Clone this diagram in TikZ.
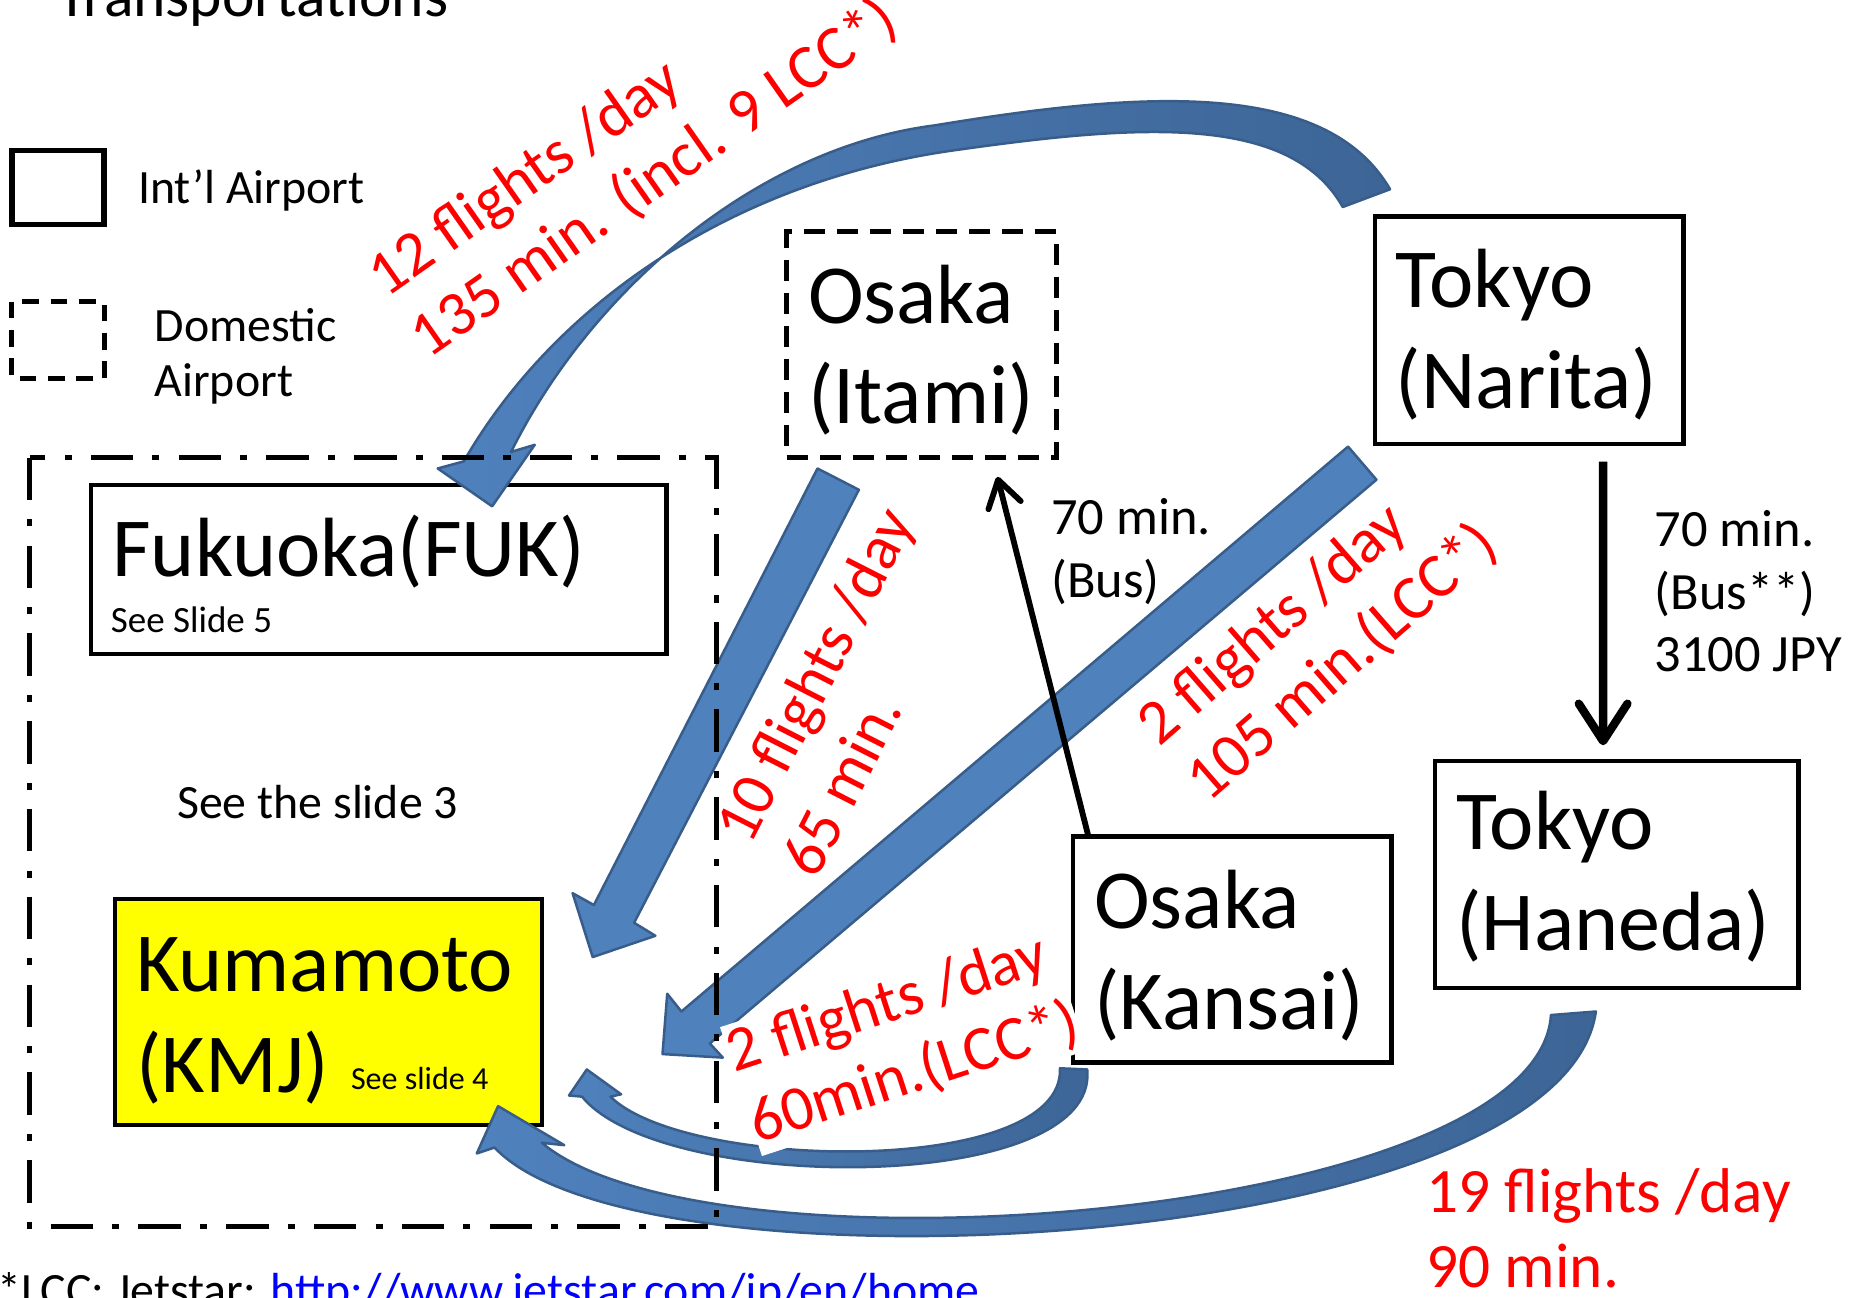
\documentclass[tikz,border=0pt]{standalone}
\usepackage{fontspec}
\setmainfont{Carlito}
\usetikzlibrary{arrows.meta}

\definecolor{arrowfill}{HTML}{4F81BD}
\definecolor{arrowdark}{HTML}{3D6596}
\definecolor{arrowline}{HTML}{385D8A}
\definecolor{flightred}{HTML}{FF0000}
\definecolor{linkblue}{HTML}{0000FF}
\definecolor{kmjyellow}{HTML}{FFFF00}

\tikzset{
  port/.style={draw, line width=1.05pt, inner xsep=0.18cm, inner ysep=0pt, outer sep=0pt,
    align=left, anchor=north west, font=\fontsize{20.2pt}{24.2pt}\selectfont},
  domestic/.style={port, line width=1.2pt, dash pattern=on 5.1pt off 2.85pt},
  grouped/.style={line width=1.2pt, dash pattern=on 10.2pt off 4.6pt on 1.7pt off 4.6pt},
  note/.style={align=left, anchor=base west, inner sep=0pt,
    font=\fontsize{11.5pt}{13.1pt}\selectfont},
  busnote/.style={align=left, anchor=base west, inner sep=0pt,
    font=\fontsize{12.6pt}{15.1pt}\selectfont},
  flight/.style={text=flightred, align=left, anchor=base west, inner sep=0pt,
    font=\fontsize{15.2pt}{17.9pt}\selectfont},
  straightarrow/.style={fill=arrowfill, draw=arrowline, line width=0.6pt, line join=round},
  curvedarrow/.style={left color=arrowfill, middle color=arrowfill, right color=arrowdark,
    draw=arrowline, line width=0.6pt, line join=round},
  busline/.style={line width=2pt, -{Straight Barb[round, length=9pt, width=11.7pt]}}
}

\begin{document}
\begin{tikzpicture}[x=0.01cm, y=-0.01cm]
\useasboundingbox (0,0) rectangle (1568,1097);

% title and legend
\node[anchor=base west, inner sep=0pt, font=\fontsize{14.8pt}{17pt}\selectfont] (title) at (48,14) {Transportations};
\draw[line width=1.3pt] (10,127) rectangle (88,190);
\node[note] (intl) at (116,172) {Int'l Airport};
\draw[line width=1.2pt, dash pattern=on 4pt off 2.8pt] (10,255) rectangle (88,320);
\node[note] (dom) at (130,335) {Domestic\\Airport};

% airports
\node[port, text width=4.50cm, text height=0.77cm, text depth=0.66cm] (fuk) at (77,410) {Fukuoka(FUK)};
\node[port, fill=kmjyellow, text width=3.25cm, text height=0.78cm, text depth=1.13cm] (kmj) at (97,760) {Kumamoto\\(KMJ)};
\node[domestic, text width=1.92cm, text height=0.77cm, text depth=1.14cm] (itami) at (665,196) {Osaka\\(Itami)};
\node[port, text width=2.25cm, text height=0.77cm, text depth=1.15cm] (narita) at (1162,183) {Tokyo\\(Narita)};
\node[port, text width=2.71cm, text height=0.75cm, text depth=1.17cm] (haneda) at (1213,643) {Tokyo\\(Haneda)};
\node[port, text width=2.33cm, text height=0.78cm, text depth=1.13cm] (kansai) at (907,707) {Osaka\\(Kansai)};

\node[anchor=base west, inner sep=0pt, font=\fontsize{8.9pt}{10pt}\selectfont] (fukslide) at (93,535) {See Slide 5};
\node[anchor=base west, inner sep=0pt, font=\fontsize{7.7pt}{9pt}\selectfont] (kmjslide) at (296,921) {See slide 4};
\node[note] (slide3) at (149,692) {See the slide 3};

% \draw straight flight arrows
\draw[straightarrow] (691,396) -- (726,414) -- (536,780) -- (554,791) -- (501,809) -- (484,755) -- (502,765) -- cycle;
\draw[straightarrow] (1139.5,377.5) -- (1163.5,405.5) -- (600,882) -- (611,894) -- (560,891) -- (564,840) -- (576,855) -- cycle;

% \draw curved flight arrows
\draw[curvedarrow] (1135,175) .. controls (1090,95) and (960,105) .. (800,128)
  .. controls (620,155) and (470,255) .. (392,390) -- (370,396) -- (416,428) -- (452,376) -- (432,382)
  .. controls (500,245) and (640,125) .. (790,106)
  .. controls (960,78) and (1120,65) .. (1175,160) -- cycle;
\draw[curvedarrow] (896,903) .. controls (900,995) and (580,990) .. (516,927)
  -- (525,925) -- (496,904) -- (481,926) -- (492,927)
  .. controls (560,1010) and (930,1010) .. (919,904) -- cycle;
\draw[curvedarrow] (1311,858) .. controls (1300,1030) and (600,1085) .. (458,966)
  -- (477,968) -- (421,935) -- (403,975) -- (418,970)
  .. controls (540,1100) and (1320,1060) .. (1349,855) -- cycle;

% \draw Kyushu group
\draw[grouped] (25,387) rectangle (606,1037);

% \draw bus lines
\draw[busline, line width=1.4pt, -{Straight Barb[round, length=6.3pt, width=8pt]}]
  ([xshift=0.13cm]kansai.north west) -- ([xshift=-0.50cm, yshift=-0.16cm]itami.south east);
\draw[busline] ([xshift=0.625cm, yshift=-0.15cm]narita.south) -- ([xshift=-0.115cm, yshift=0.13cm]haneda.north);
\node[busnote] (itamibus) at (888,505) {70 min.\\(Bus)};
\node[busnote] (naritabus) at (1398,568) {70 min.\\(Bus**)\\3100 JPY};

% flight labels (anchored at the last line)
\node[flight, rotate=35] (fukflights) at (362,304) {12 flights /day\\135 min. (incl. 9 LCC*)};
\node[flight, rotate=63] (itamiflights) at (690,745) {10 flights /day\\65 min.};
\node[flight, rotate=41] (naritaflights) at (1021,680) {2 flights /day\\105 min.(LCC*)};
\node[flight, rotate=18, fill=white, inner ysep=1pt] (kansaiflights) at (640,967) {2 flights /day\\60min.(LCC*)};
\node[flight] (hanedaflights) at (1205,1088) {19 flights /day\\90 min.};

% footnote
\node[note] (lccnote) at (-3,1104) {*LCC: Jetstar: \textcolor{linkblue}{http://www.jetstar.com/jp/en/home}};
\end{tikzpicture}
\end{document}
